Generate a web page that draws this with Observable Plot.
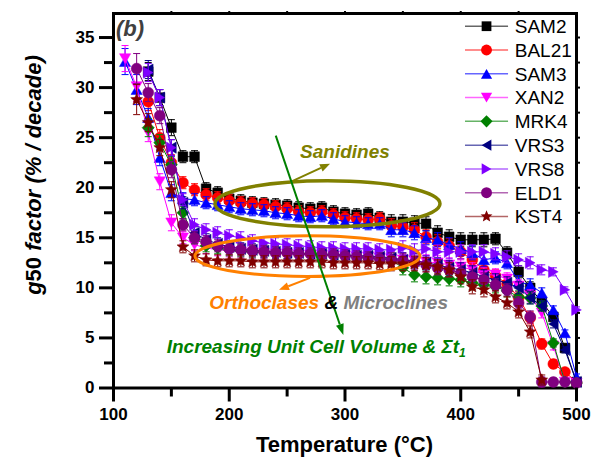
<!DOCTYPE html>
<html><head><meta charset="utf-8">
<script src="https://cdn.jsdelivr.net/npm/d3@7"></script>
<script src="https://cdn.jsdelivr.net/npm/@observablehq/plot@0.6"></script>
<style>body{margin:0;background:#fff}svg{display:block}</style>
</head><body><div id="chart"></div>
<script>
// ---------- data ----------
const temps = [110,120,130,140,150,160,170,180,190,200,210,220,230,240,250,260,270,280,290,300,
               310,320,330,340,350,360,370,380,390,400,410,420,430,440,450,460,470,480,490,500];
const SAM2  = [null,null,31.6,29.0,26.0,23.1,23.1,19.9,19.5,18.9,18.7,18.5,18.4,18.3,18.2,18.0,17.9,18.0,17.6,17.4,
               17.3,17.4,17.0,16.6,16.6,16.5,16.4,15.5,15.1,14.8,14.8,14.8,14.9,13.5,11.6,10.0,8.6,7.1,4.0,0.6];
const BAL21 = [null,null,28.6,25.0,22.5,20.5,19.8,19.3,19.0,18.7,18.5,18.4,18.3,18.1,17.9,17.6,17.5,17.6,17.3,17.0,
               16.9,16.8,16.9,16.2,16.1,15.8,15.1,14.6,14.2,13.6,12.8,11.8,11.2,10.4,9.0,7.0,4.4,2.4,1.6,0.6];
const SAM3  = [32.6,29.8,27.0,23.0,19.5,18.9,18.8,18.5,18.3,18.1,17.9,17.8,17.7,17.5,17.4,17.2,17.1,17.2,16.9,16.6,
               16.5,16.4,16.4,15.8,15.8,15.5,15.0,14.8,14.3,13.9,13.5,12.8,13.0,12.5,10.6,10.3,9.5,7.8,5.5,1.1];
const XAN2  = [32.9,30.1,25.5,20.6,16.5,15.0,14.3,14.0,13.8,13.7,13.6,13.5,13.5,13.4,13.4,13.3,13.3,13.3,13.2,13.2,
               13.1,13.1,13.0,12.9,12.8,12.7,12.6,12.5,12.3,12.1,11.8,11.3,11.3,10.9,10.2,9.2,7.5,4.2,0.6,0.5];
const MRK4  = [null,null,26.0,24.5,22.3,17.5,15.0,14.2,14.0,13.8,13.7,13.6,13.6,13.5,13.5,13.4,13.4,13.3,13.3,13.2,
               13.1,13.0,12.9,12.8,12.0,11.3,11.1,11.0,10.9,10.8,10.5,10.3,10.1,9.7,9.1,9.0,8.2,4.5,0.6,0.5];
const VRS3  = [null,null,31.8,29.0,24.0,18.5,15.5,14.8,14.4,14.1,13.9,13.8,13.7,13.6,13.5,13.5,13.4,13.4,13.3,13.3,
               13.2,13.2,13.1,13.0,12.8,12.7,12.5,12.3,12.0,11.8,11.5,11.1,10.8,10.5,10.0,9.0,8.2,6.4,3.8,0.6];
const VRS8  = [null,null,31.5,29.0,24.0,18.8,16.3,15.8,15.5,15.2,15.0,14.7,14.5,14.4,14.3,14.2,14.1,14.0,14.0,13.9,
               13.9,13.9,13.8,13.8,14.0,13.7,13.9,13.6,13.6,13.6,13.6,13.6,13.4,13.1,12.8,12.5,11.8,11.6,9.8,7.8];
const ELD1  = [null,31.9,29.5,27.2,21.8,16.3,15.0,14.6,14.2,13.9,13.8,13.7,13.6,13.5,13.5,13.4,13.4,13.3,13.3,13.2,
               13.1,13.0,12.9,12.8,12.7,12.5,12.3,12.0,11.8,11.5,11.1,10.8,10.3,9.8,8.5,7.1,0.6,0.6,0.6,0.5];
const KST4  = [null,28.8,26.5,24.0,19.8,14.1,13.2,12.8,12.7,12.7,12.7,12.6,12.6,12.6,12.6,12.6,12.6,12.6,12.5,12.5,
               12.5,12.5,12.4,12.4,12.4,12.4,12.3,12.1,11.8,11.1,10.1,9.8,9.1,8.5,7.6,5.6,0.8,null,null,null];
const errs  = [1.3,1.5,0.9,0.8,0.8,0.6,0.6,0.6,0.6,0.6,0.6,0.6,0.6,0.6,0.6,0.6,0.6,0.6,0.6,0.6,
               0.6,0.6,0.6,0.7,0.7,0.7,0.7,0.7,0.7,0.7,0.7,0.7,0.6,0.6,0.6,0.6,0.5,0.4,0.3,0.3];
const seriesNames = ["SAM2","BAL21","SAM3","XAN2","MRK4","VRS3","VRS8","ELD1","KST4"];
const seriesValues = [SAM2,BAL21,SAM3,XAN2,MRK4,VRS3,VRS8,ELD1,KST4];
const seriesColors = ["#000000","#ff0000","#0000ff","#ff00ff","#008000","#000080","#8000ff","#800080","#800000"];
const seriesSymbols = ["square","circle","triangleUp","triangleDown","diamond","triangleLeft","triangleRight","circle","star"];
const xTicks = [100,200,300,400,500];
const yTicks = [0,5,10,15,20,25,30,35];

// ---------- symbols ----------
const S3 = Math.sqrt(3);
function triSym(dir){return {draw(c,size){const a=Math.sqrt(size)*1.15,h=a*S3/2;
  let p;
  if(dir==="up")p=[[0,-h/2],[a/2,h/2],[-a/2,h/2]];
  else if(dir==="down")p=[[0,h/2],[a/2,-h/2],[-a/2,-h/2]];
  else if(dir==="left")p=[[-h/2,0],[h/2,-a/2],[h/2,a/2]];
  else p=[[h/2,0],[-h/2,-a/2],[-h/2,a/2]];
  c.moveTo(p[0][0],p[0][1]);c.lineTo(p[1][0],p[1][1]);c.lineTo(p[2][0],p[2][1]);c.closePath();}};}
const symbolDefs = {
  square:{draw(c,size){const h=Math.sqrt(size)/2;c.moveTo(-h,-h);c.lineTo(h,-h);c.lineTo(h,h);c.lineTo(-h,h);c.closePath();}},
  circle:{draw(c,size){const r=Math.sqrt(size)*0.56;c.moveTo(r,0);c.arc(0,0,r,0,2*Math.PI);c.closePath();}},
  diamond:{draw(c,size){const d=Math.sqrt(size)*0.62;c.moveTo(0,-d);c.lineTo(d,0);c.lineTo(0,d);c.lineTo(-d,0);c.closePath();}},
  star:{draw(c,size){const R=Math.sqrt(size)*0.64,r=R*0.45;for(let i=0;i<10;i++){const ang=-Math.PI/2+i*Math.PI/5,rr=i%2?r:R;
    const x=rr*Math.cos(ang),y=rr*Math.sin(ang);if(i===0)c.moveTo(x,y);else c.lineTo(x,y);}c.closePath();}},
  triangleUp:triSym("up"),triangleDown:triSym("down"),triangleLeft:triSym("left"),triangleRight:triSym("right")
};
const capSym = {draw(c){c.moveTo(-3.5,0);c.lineTo(3.5,0);}};

// ---------- marks ----------
const marks = [Plot.frame({strokeWidth:3})];
seriesNames.forEach((name,k)=>{
  const rows=[];
  seriesValues[k].forEach((v,i)=>{ if(v!=null) rows.push({T:temps[i],v,lo:v-errs[i],hi:v+errs[i]}); });
  const col=seriesColors[k];
  marks.push(
    Plot.ruleX(rows,{x:"T",y1:"lo",y2:"hi",stroke:col,strokeWidth:1}),
    Plot.dot(rows,{x:"T",y:"lo",symbol:capSym,stroke:col,fill:"none",r:3,strokeWidth:1}),
    Plot.dot(rows,{x:"T",y:"hi",symbol:capSym,stroke:col,fill:"none",r:3,strokeWidth:1}),
    Plot.line(rows,{x:"T",y:"v",stroke:col,strokeWidth:1}),
    Plot.dot(rows,{x:"T",y:"v",symbol:symbolDefs[seriesSymbols[k]],fill:col,stroke:col,strokeWidth:0.5,r:5.5})
  );
});
const empty = ()=>"";
marks.push(
  Plot.axisX({ticks:xTicks,tickSize:14,tickPadding:6,strokeWidth:3,label:null,fontSize:17,fontWeight:"bold"}),
  Plot.axisX({ticks:[150,250,350,450],tickSize:9,strokeWidth:3,label:null,tickFormat:empty}),
  Plot.axisY({ticks:yTicks,tickSize:14,tickPadding:5,strokeWidth:3,label:null,fontSize:17,fontWeight:"bold"}),
  Plot.axisY({ticks:[2.5,7.5,12.5,17.5,22.5,27.5,32.5],tickSize:9,strokeWidth:3,label:null,tickFormat:empty}),
  Plot.axisX({anchor:"top",ticks:[150,200,250,300,350,400,450],tickSize:3,strokeWidth:2,label:null,tickFormat:empty}),
  Plot.axisY({anchor:"right",ticks:[2.5,5,7.5,10,12.5,15,17.5,20,22.5,25,27.5,30,32.5,35],tickSize:3,strokeWidth:2,label:null,tickFormat:empty})
);

const plot = Plot.plot({
  width:594,height:463,marginLeft:113,marginRight:18,marginTop:13,marginBottom:75.5,
  x:{domain:[100,500]}, y:{domain:[0,37.4]},
  style:{fontFamily:"'Liberation Sans', Arial, sans-serif",fontSize:"17px",color:"#000",background:"#fff"},
  marks
});
document.getElementById("chart").appendChild(plot);

// ---------- annotations (data coordinates) ----------
const svg = d3.select(plot);
const sx = plot.scale("x"), sy = plot.scale("y");
const X = t=>sx.apply(t), Y = v=>sy.apply(v);
const FF = "'Liberation Sans', Arial, sans-serif";
const g = svg.append("g");

function ellipse(ct,cv,rt,rv,color,w){
  g.append("ellipse").attr("cx",X(ct)).attr("cy",Y(cv)).attr("rx",X(ct+rt)-X(ct)).attr("ry",Y(cv)-Y(cv+rv))
   .attr("fill","none").attr("stroke",color).attr("stroke-width",w);
}
function arrow(t1,v1,t2,v2,color,w,len,hw){
  const x1=X(t1),y1=Y(v1),x2=X(t2),y2=Y(v2);
  const dx=x2-x1,dy=y2-y1,L=Math.hypot(dx,dy),ux=dx/L,uy=dy/L;
  const bx=x2-ux*len,by=y2-uy*len;
  g.append("line").attr("x1",x1).attr("y1",y1).attr("x2",bx).attr("y2",by).attr("stroke",color).attr("stroke-width",w);
  g.append("path").attr("d",`M${x2},${y2}L${bx-uy*hw},${by+ux*hw}L${bx+uy*hw},${by-ux*hw}Z`).attr("fill",color);
}
ellipse(285.3,18.35,97.2,2.3,"#808000",3.5);
ellipse(268.0,13.12,97.2,2.03,"#ff8000",3);
arrow(254.4,20.58,287.5,22.35,"#808000",2,10,4);
arrow(270.2,10.95,243.4,9.75,"#ff8000",2,10,4);
arrow(240.6,25.15,299.0,5.25,"#008000",2,11,4);

function txt(t,v,size,opts={}){
  return g.append("text").attr("x",X(t)).attr("y",Y(v)).attr("font-family",FF).attr("font-size",size)
    .attr("font-weight",opts.weight||"bold").attr("font-style",opts.style||"italic").attr("text-anchor",opts.anchor||"start");
}
txt(102.6,35.15,22).attr("fill","#404040").text("(b)");
txt(261.6,22.95,19).attr("fill","#808000").text("Sanidines");
const t2 = txt(183.2,7.8,19);
t2.append("tspan").attr("fill","#ff8000").text("Orthoclases ");
t2.append("tspan").attr("fill","#000").text("& ");
t2.append("tspan").attr("fill","#808080").text("Microclines");
const t3 = txt(146.4,3.45,19).attr("fill","#008000");
t3.append("tspan").text("Increasing Unit Cell Volume & \u03A3t");
t3.append("tspan").attr("font-size",12).attr("dy",4).text("1");

// axis titles
g.append("text").attr("x",(X(100)+X(500))/2).attr("y",452).attr("text-anchor","middle")
  .attr("font-family",FF).attr("font-size",22).attr("font-weight","bold").text("Temperature (\u00B0C)");
const yt = g.append("text").attr("transform","translate(41,175) rotate(-90)").attr("text-anchor","middle")
  .attr("font-family",FF).attr("font-size",22).attr("font-weight","bold").attr("font-style","italic");
yt.append("tspan").text("g");
yt.append("tspan").attr("font-style","normal").text("50");
yt.append("tspan").text(" factor (% / decade)");

// legend
const lg = svg.append("g");
seriesNames.forEach((name,k)=>{
  const yy = Y(36.08 - k*2.375);
  lg.append("line").attr("x1",X(404.1)).attr("x2",X(441.3)).attr("y1",yy).attr("y2",yy)
    .attr("stroke",seriesColors[k]).attr("stroke-width",1.5).attr("stroke-opacity",0.6);
  lg.append("path").attr("transform",`translate(${X(422.7)},${yy})`)
    .attr("d",d3.symbol().type(symbolDefs[seriesSymbols[k]]).size(95)()).attr("fill",seriesColors[k]);
  lg.append("text").attr("x",X(447.1)).attr("y",yy).attr("dy","0.36em").attr("font-family",FF)
    .attr("text-anchor","start").attr("font-size",19).attr("font-weight","normal").attr("fill","#000").text(name);
});
</script></body></html>
